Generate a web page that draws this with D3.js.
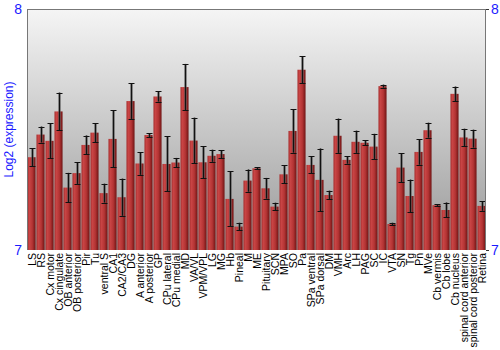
<!DOCTYPE html>
<html>
<head>
<meta charset="utf-8">
<script src="https://cdn.jsdelivr.net/npm/d3@7"></script>
<style>
  body { margin: 0; background: #fff; }
  text { font-family: "Liberation Sans", Arial, sans-serif; }
</style>
</head>
<body>
<div id="chart-container"></div>
<script>
const regions = ["LS", "RS", "Cx motor", "Cx cingulate", "OB anterior", "OB posterior", "Pir", "Tu",
  "ventral S", "CA1", "CA2/CA3", "DG", "A anterior", "A posterior", "GP", "CPu lateral", "CPu medial",
  "MD", "VA/VL", "VPM/VPL", "LG", "MG", "Hb", "Pineal", "M", "ME", "Pituitary", "SCN", "MPA", "SO",
  "Pa", "SPa ventral", "SPa dorsal", "DM", "VMH", "Arc", "LH", "PAG", "SC", "IC", "VTA", "SN", "Tg",
  "Pn", "MVe", "Cb vermis", "Cb lobe", "Cb nucleus", "spinal cord anterior", "spinal cord posterior", "Retina"];

const expression = [7.385, 7.479, 7.453, 7.575, 7.259, 7.319, 7.436, 7.487,
  7.236, 7.461, 7.219, 7.618, 7.359, 7.477, 7.637, 7.357, 7.363,
  7.676, 7.454, 7.364, 7.391, 7.398, 7.212, 7.097, 7.288, 7.339, 7.256, 7.180, 7.314, 7.494,
  7.748, 7.353, 7.291, 7.228, 7.474, 7.374, 7.449, 7.445, 7.429, 7.680, 7.108, 7.342, 7.224,
  7.407, 7.497, 7.186, 7.166, 7.648, 7.467, 7.462, 7.183];

const errors = [0.038, 0.033, 0.073, 0.078, 0.061, 0.045, 0.039, 0.039,
  0.039, 0.118, 0.077, 0.074, 0.047, 0.008, 0.021, 0.114, 0.019,
  0.096, 0.095, 0.067, 0.025, 0.016, 0.114, 0.016, 0.046, 0.004, 0.043, 0.016, 0.037, 0.090,
  0.057, 0.035, 0.130, 0.018, 0.071, 0.016, 0.046, 0.010, 0.053, 0.006, 0.005, 0.060, 0.068,
  0.053, 0.031, 0.003, 0.031, 0.030, 0.036, 0.037, 0.020];

const yTicks = [7, 8];

const width = 500;
const height = 350;
const marginTop = 9;
const marginRight = 14;
const marginBottom = 100;
const marginLeft = 27;

const data = regions.map((r, i) => ({name: r, value: expression[i], err: errors[i]}));

const x = d3.scaleBand()
    .domain(regions)
    .range([marginLeft, width - marginRight])
    .paddingInner(0.1)
    .paddingOuter(0.05);

const y = d3.scaleLinear()
    .domain([7, 8])
    .range([height - marginBottom, marginTop]);

const svg = d3.create("svg")
    .attr("width", width)
    .attr("height", height);

const defs = svg.append("defs");

const bg = defs.append("linearGradient")
    .attr("id", "bg").attr("x1", 0).attr("y1", 0).attr("x2", 0).attr("y2", 1);
bg.append("stop").attr("offset", "0%").attr("stop-color", "#f5f5f5");
bg.append("stop").attr("offset", "100%").attr("stop-color", "#999999");

const barGrad = defs.append("linearGradient")
    .attr("id", "bar").attr("x1", 0).attr("y1", 0).attr("x2", 1).attr("y2", 0);
barGrad.append("stop").attr("offset", "0%").attr("stop-color", "#a83030");
barGrad.append("stop").attr("offset", "25%").attr("stop-color", "#c84444");
barGrad.append("stop").attr("offset", "60%").attr("stop-color", "#b43434");
barGrad.append("stop").attr("offset", "100%").attr("stop-color", "#701414");

// plot background
svg.append("rect")
    .attr("x", marginLeft)
    .attr("y", marginTop)
    .attr("width", width - marginLeft - marginRight)
    .attr("height", height - marginBottom - marginTop)
    .attr("fill", "url(#bg)");

// bars
svg.append("g")
    .selectAll("rect")
    .data(data)
    .join("rect")
    .attr("x", d => x(d.name))
    .attr("y", d => y(d.value))
    .attr("width", x.bandwidth())
    .attr("height", d => y(7) - y(d.value))
    .attr("fill", "url(#bar)");

// error bars
const eb = svg.append("g")
    .selectAll("g")
    .data(data)
    .join("g")
    .attr("transform", d => `translate(${Math.round(x(d.name) + x.bandwidth() / 2) + 0.5},0)`);

eb.append("line")
    .attr("y1", d => y(d.value + d.err))
    .attr("y2", d => y(d.value - d.err))
    .attr("stroke", "#555")
    .attr("stroke-opacity", 0.6)
    .attr("stroke-width", 3);
eb.append("line")
    .attr("y1", d => y(d.value + d.err))
    .attr("y2", d => y(d.value - d.err))
    .attr("stroke", "#111")
    .attr("stroke-width", 1);
eb.append("line")
    .attr("x1", -3).attr("x2", 3)
    .attr("y1", d => Math.round(y(d.value + d.err)) + 0.5)
    .attr("y2", d => Math.round(y(d.value + d.err)) + 0.5)
    .attr("stroke", "#111");
eb.append("line")
    .attr("x1", -3).attr("x2", 3)
    .attr("y1", d => Math.round(y(d.value - d.err)) + 0.5)
    .attr("y2", d => Math.round(y(d.value - d.err)) + 0.5)
    .attr("stroke", "#111");

// frame lines
svg.append("line")
    .attr("x1", marginLeft + 0.5).attr("x2", marginLeft + 0.5)
    .attr("y1", marginTop).attr("y2", height - marginBottom)
    .attr("stroke", "#777");
svg.append("line")
    .attr("x1", marginLeft).attr("x2", width - marginRight)
    .attr("y1", marginTop + 0.5).attr("y2", marginTop + 0.5)
    .attr("stroke", "#777");
svg.append("line")
    .attr("x1", width - marginRight - 0.5).attr("x2", width - marginRight - 0.5)
    .attr("y1", marginTop).attr("y2", height - marginBottom)
    .attr("stroke", "#777");

// left axis
svg.append("g")
    .attr("transform", `translate(${marginLeft},0)`)
    .call(d3.axisLeft(y).tickValues(yTicks).tickSize(0).tickPadding(5).tickFormat(d3.format("d")))
    .call(g => g.select(".domain").remove())
    .call(g => g.selectAll("text").attr("fill", "#1a1aff").attr("font-size", 14)
        .attr("font-family", "Liberation Sans, Arial, sans-serif"));

// right axis
svg.append("g")
    .attr("transform", `translate(${width - marginRight},0)`)
    .call(d3.axisRight(y).tickValues(yTicks).tickSize(3).tickPadding(2).tickFormat(d3.format("d")))
    .call(g => g.select(".domain").remove())
    .call(g => g.selectAll("line").attr("stroke", "#333"))
    .call(g => g.selectAll("text").attr("fill", "#1a1aff").attr("font-size", 14)
        .attr("font-family", "Liberation Sans, Arial, sans-serif"));

// y title
svg.append("text")
    .attr("transform", `translate(13,${(marginTop + height - marginBottom) / 2}) rotate(-90)`)
    .attr("text-anchor", "middle")
    .attr("font-size", 12)
    .attr("fill", "#1a1aff")
    .text("Log2 (expression)");

// category labels
svg.append("g")
    .selectAll("text")
    .data(regions)
    .join("text")
    .attr("transform", d => `translate(${x(d) + x.bandwidth() / 2 + 4},${height - marginBottom + 3}) rotate(-90)`)
    .attr("text-anchor", "end")
    .attr("font-size", 10.5)
    .attr("fill", "#000")
    .text(d => d);

document.getElementById("chart-container").appendChild(svg.node());
</script>
</body>
</html>
